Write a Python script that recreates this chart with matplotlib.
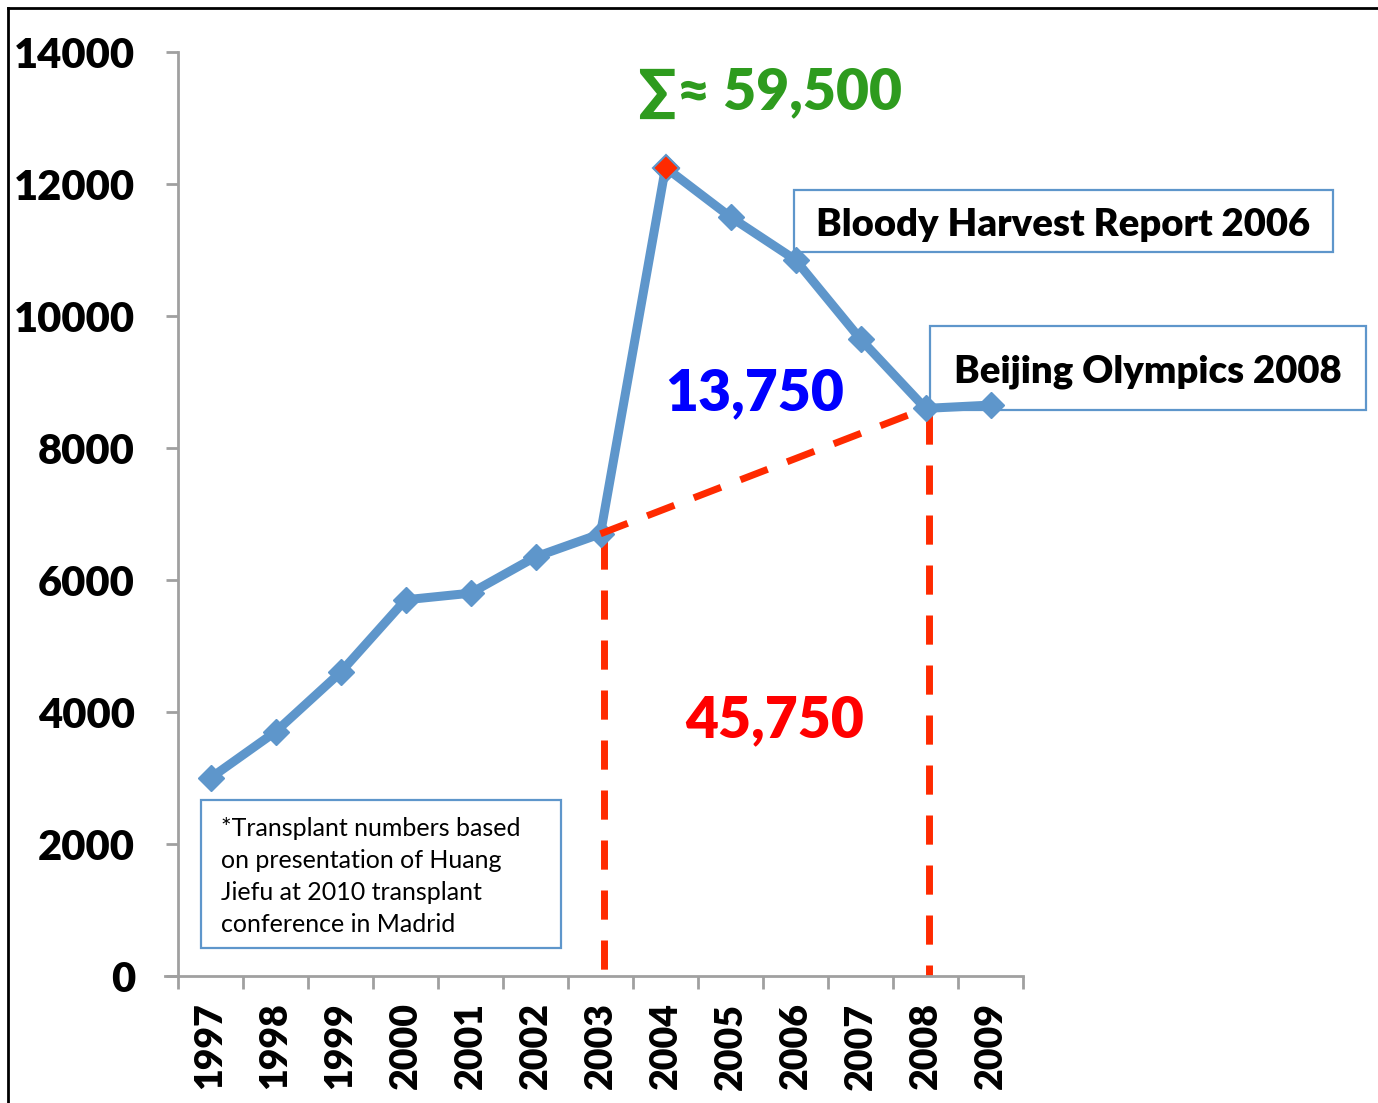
import matplotlib
matplotlib.use("Agg")
from matplotlib import pyplot as plt
from matplotlib.patches import Rectangle
from matplotlib.lines import Line2D

plt.rcParams['font.family'] = ['Lato', 'DejaVu Sans']

years = ['1997', '1998', '1999', '2000', '2001', '2002', '2003',
         '2004', '2005', '2006', '2007', '2008', '2009']
transplants = [3000, 3700, 4600, 5700, 5800, 6350, 6700,
               12250, 11500, 10850, 9650, 8600, 8650]
baseline_years = [6, 11]          # 2003 -> 2008 trend
highlight_year = 7                # 2004
yticks = [0, 2000, 4000, 6000, 8000, 10000, 12000, 14000]

W, H = 1378, 1103
BLUE = '#5e96cb'
RED = '#ff2a00'
HEAVY = 'heavy'


def fx(px):
    return px / W


def fy(py):
    return 1 - py / H


fig = plt.figure(figsize=(W / 100, H / 100), dpi=100)
ax = fig.add_axes([fx(178), fy(976), fx(1023) - fx(178), fy(52) - fy(976)])
ax.patch.set_alpha(0)
ax.set_zorder(2)

x = list(range(len(years)))
ax.plot(x, transplants, color=BLUE, lw=6.5, marker='D', ms=13,
        mfc=BLUE, mec=BLUE, zorder=3, solid_joinstyle='round', clip_on=False)
ax.plot([x[highlight_year]], [transplants[highlight_year]], marker='D', ms=13,
        mfc=RED, mec=BLUE, mew=1.5, zorder=4, ls='none')

# trend line and verticals
i0, i1 = baseline_years
ax.plot([x[i0], x[i1]], [transplants[i0], transplants[i1]], color=RED, lw=5,
        ls=(0, (4.2, 3)), zorder=5)
for i in baseline_years:
    ax.plot([x[i] + 0.05, x[i] + 0.05], [transplants[i] - 100, 0], color=RED, lw=5,
            ls=(0, (4.2, 3)), zorder=2)

ax.set_xlim(-0.5, 12.5)
ax.set_ylim(0, 14000)
ax.set_yticks(yticks)
ax.set_yticklabels([str(v) for v in yticks], fontsize=30, fontweight=HEAVY,
                   va='center_baseline')
ax.set_xticks(x)
ax.set_xticklabels(years, rotation=90, fontsize=27, fontweight=HEAVY)
ax.set_xticks([v - 0.5 for v in range(len(years) + 1)], minor=True)
ax.tick_params(axis='x', which='major', length=0, pad=19)
ax.tick_params(axis='x', which='minor', length=9, width=2, color='#a0a0a0')
ax.tick_params(axis='y', length=9, width=2, color='#a0a0a0', pad=22)
for s in ['top', 'right']:
    ax.spines[s].set_visible(False)
for s in ['left', 'bottom']:
    ax.spines[s].set_color('#a0a0a0')
    ax.spines[s].set_linewidth(2)
ax.spines['bottom'].set_bounds(-0.7, 12.5)

# big numbers
fig.text(fx(770), fy(93), '∑≈ 59,500', color='#2e9b1e', fontsize=41,
         fontweight=HEAVY, ha='center', va='center', zorder=7)
fig.text(fx(755), fy(393), '13,750', color='#0000ff', fontsize=41,
         fontweight=HEAVY, ha='center', va='center', zorder=7)
fig.text(fx(775), fy(720), '45,750', color='#ff0000', fontsize=41,
         fontweight=HEAVY, ha='center', va='center', zorder=7)

# boxes (below the line)
def box(x0, y0, x1, y1):
    fig.add_artist(Rectangle((fx(x0), fy(y1)), fx(x1) - fx(x0), fy(y0) - fy(y1),
                             transform=fig.transFigure, fill=True, fc='white',
                             ec=BLUE, lw=1.6, zorder=1))

box(794, 190, 1333, 252)
fig.text(fx(1063), fy(225), 'Bloody Harvest Report 2006', fontsize=27.5,
         fontweight=HEAVY, ha='center', va='center', zorder=7)
box(930, 326, 1366, 410)
fig.text(fx(1148), fy(372), 'Beijing Olympics 2008', fontsize=27.5,
         fontweight=HEAVY, ha='center', va='center', zorder=7)
box(201, 800, 561, 948)
note = ['*Transplant numbers based', 'on presentation of Huang',
        'Jiefu at 2010 transplant', 'conference in Madrid']
for k, line in enumerate(note):
    fig.text(fx(221), fy(828 + 32 * k), line, fontsize=18, ha='left',
             va='center', zorder=7)

# frame at top and left edge
fig.add_artist(Line2D([fx(8), 1], [fy(8), fy(8)], color='black', lw=2,
                      transform=fig.transFigure))
fig.add_artist(Line2D([fx(8), fx(8)], [0, fy(8)], color='black', lw=2,
                      transform=fig.transFigure))

fig.savefig('out.png', dpi=100)
